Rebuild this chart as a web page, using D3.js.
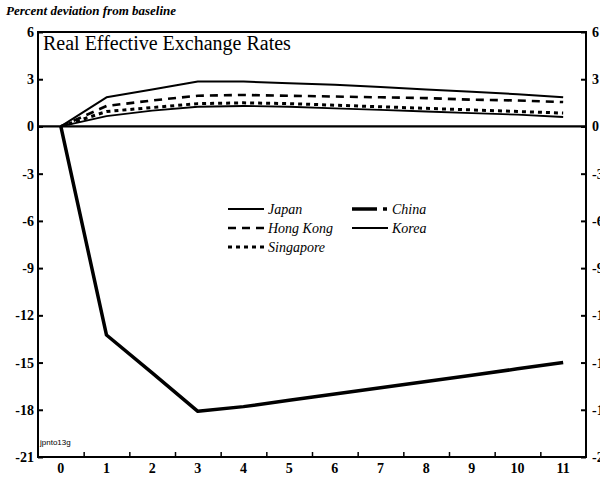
<!DOCTYPE html>
<html>
<head>
<meta charset="utf-8">
<script src="https://cdn.jsdelivr.net/npm/d3@7"></script>
<style>
  body { margin: 0; background: #fff; }
  svg { display: block; }
</style>
</head>
<body>
<svg id="chart" width="600" height="478" font-family="'Liberation Serif', 'Times New Roman', serif"></svg>
<script>
// Periods after the shock
const periods = [0, 1, 2, 3, 4, 5, 6, 7, 8, 9, 10, 11];
// Percent deviation from baseline, by economy
const japan     = [0, 1.85, 2.35, 2.85, 2.85, 2.75, 2.65, 2.5, 2.35, 2.2, 2.05, 1.85];
const china     = [0, -13.25, -15.65, -18.1, -17.8, -17.4, -17.0, -16.6, -16.2, -15.8, -15.4, -15.0];
const hongKong  = [0, 1.3, 1.65, 1.95, 2.0, 1.95, 1.9, 1.85, 1.8, 1.7, 1.65, 1.55];
const korea     = [0, 0.65, 1.0, 1.25, 1.3, 1.25, 1.15, 1.05, 0.95, 0.85, 0.75, 0.6];
const singapore = [0, 0.95, 1.2, 1.45, 1.5, 1.45, 1.35, 1.25, 1.15, 1.05, 0.95, 0.85];
const yTicks = [6, 3, 0, -3, -6, -9, -12, -15, -18, -21];
const xTicks = periods;
const minorX = [0.5, 1.5, 2.5, 3.5, 4.5, 5.5, 6.5, 7.5, 8.5, 9.5, 10.5];

const serif = "'Liberation Serif', 'Times New Roman', serif";
const svg = d3.select("#chart");
const mLeft = 38, mRight = 586, mTop = 32, mBottom = 457;

const x = d3.scaleLinear().domain([-0.5, 11.5]).range([mLeft, mRight]);
const y = d3.scaleLinear().domain([-21, 6]).range([mBottom, mTop]);

// Header
svg.append("text").attr("x", 6).attr("y", 15)
  .attr("font-family", serif)
  .style("font-size", "13px").style("font-style", "italic").style("font-weight", "bold")
  .text("Percent deviation from baseline");

// Frame
svg.append("rect").attr("x", mLeft).attr("y", mTop)
  .attr("width", mRight - mLeft).attr("height", mBottom - mTop)
  .attr("fill", "none").attr("stroke", "#000").attr("stroke-width", 2);

// Left axis: inward ticks
const yl = svg.append("g").attr("transform", `translate(${mLeft},0)`)
  .call(d3.axisRight(y).tickValues(yTicks).tickSize(5).tickFormat(""));
yl.select(".domain").remove();
yl.selectAll("line").attr("stroke-width", 2);
svg.append("g").selectAll("text").data(yTicks).join("text")
  .attr("x", mLeft - 4).attr("y", d => y(d) + 5)
  .attr("text-anchor", "end").attr("font-family", serif)
  .style("font-size", "14px").style("font-weight", "bold")
  .text(d => d);

// Right axis: inward ticks, labels running off the edge
const yr = svg.append("g").attr("transform", `translate(${mRight},0)`)
  .call(d3.axisLeft(y).tickValues(yTicks).tickSize(5).tickFormat(""));
yr.select(".domain").remove();
yr.selectAll("line").attr("stroke-width", 2);
svg.append("g").selectAll("text").data(yTicks).join("text")
  .attr("x", mRight + 6).attr("y", d => y(d) + 5)
  .attr("text-anchor", "start").attr("font-family", serif)
  .style("font-size", "14px").style("font-weight", "bold")
  .text(d => d);

// Bottom axis: minor ticks between periods, labels under periods
const xb = svg.append("g").attr("transform", `translate(0,${mBottom})`)
  .call(d3.axisTop(x).tickValues(minorX).tickSize(5).tickFormat(""));
xb.select(".domain").remove();
xb.selectAll("line").attr("stroke-width", 1.5);
svg.append("g").selectAll("text").data(xTicks).join("text")
  .attr("x", d => x(d)).attr("y", mBottom + 16)
  .attr("text-anchor", "middle").attr("font-family", serif)
  .style("font-size", "14px").style("font-weight", "bold")
  .text(d => d);

// Zero line
svg.append("line")
  .attr("x1", mLeft).attr("x2", mRight).attr("y1", y(0)).attr("y2", y(0))
  .attr("stroke", "#000").attr("stroke-width", 2.2);

// Title
svg.append("text").attr("x", mLeft + 5).attr("y", mTop + 18)
  .attr("font-family", serif)
  .style("font-size", "20px").text("Real Effective Exchange Rates");

// File tag
svg.append("text").attr("x", mLeft + 2).attr("y", mBottom - 12)
  .attr("font-family", "'Liberation Sans', sans-serif")
  .style("font-size", "8px")
  .text("jpnto13g");

// Series
const series = [
  { name: "Japan", values: japan, width: 2, dash: null },
  { name: "Hong Kong", values: hongKong, width: 2.6, dash: "8,6" },
  { name: "Singapore", values: singapore, width: 3, dash: "4,4" },
  { name: "Korea", values: korea, width: 1.8, dash: null },
  { name: "China", values: china, width: 3.5, dash: null }
];

const line = d3.line().x((d, i) => x(periods[i])).y(d => y(d));
svg.append("g").selectAll("path").data(series).join("path")
  .attr("d", d => line(d.values))
  .attr("fill", "none").attr("stroke", "#000")
  .attr("stroke-width", d => d.width)
  .attr("stroke-dasharray", d => d.dash)
  .attr("stroke-linejoin", "round");

// Legend
const legend = [
  { name: "Japan", lx: 228, ly: 209, width: 2, dash: null },
  { name: "China", lx: 352, ly: 209, width: 3.5, dash: "25,6,4,40" },
  { name: "Hong Kong", lx: 228, ly: 228, width: 2.6, dash: "8,6" },
  { name: "Korea", lx: 352, ly: 228, width: 2, dash: null },
  { name: "Singapore", lx: 228, ly: 247, width: 3, dash: "4,4" }
];
const lg = svg.append("g").selectAll("g").data(legend).join("g");
lg.append("line")
  .attr("x1", d => d.lx).attr("x2", d => d.lx + 36)
  .attr("y1", d => d.ly).attr("y2", d => d.ly)
  .attr("stroke", "#000").attr("stroke-width", d => d.width)
  .attr("stroke-dasharray", d => d.dash);
lg.append("text")
  .attr("x", d => d.lx + 40).attr("y", d => d.ly + 5)
  .attr("font-family", serif)
  .style("font-size", "14px").style("font-style", "italic")
  .text(d => d.name);
</script>
</body>
</html>
